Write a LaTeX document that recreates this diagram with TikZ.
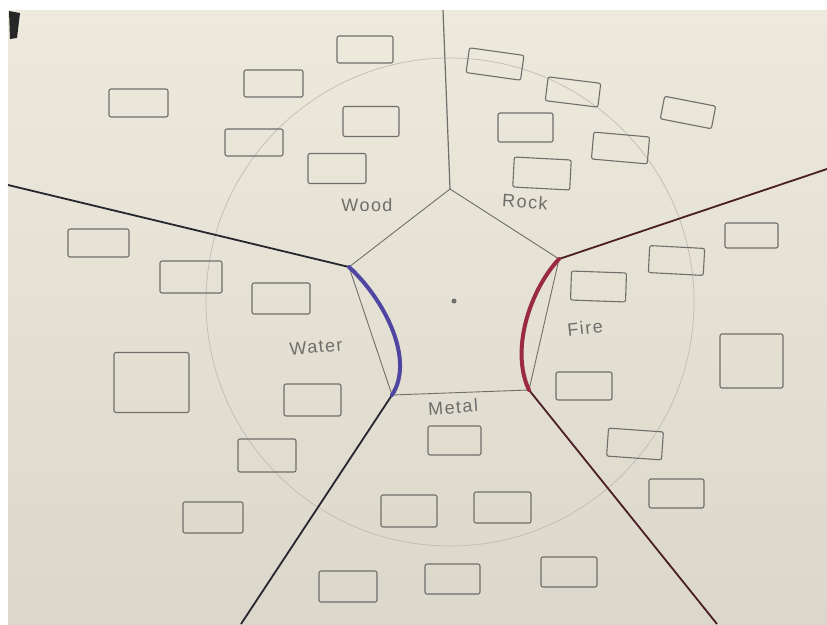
\documentclass[tikz,border=0pt]{standalone}
\usepackage{fontspec}
\usepackage{tikz}
\usetikzlibrary{positioning}
\newfontfamily\mano[LetterSpace=8]{Liberation Sans}
\definecolor{cpapel}{HTML}{EDE9DD}
\definecolor{cpapelb}{HTML}{DCD7CB}
\definecolor{clapiz}{HTML}{6E6E6A}
\definecolor{ccirculo}{HTML}{BEBCB4}
\definecolor{cazul}{HTML}{4E46A0}
\definecolor{cgrana}{HTML}{9A2A40}
\definecolor{ctinta}{HTML}{26262E}
\definecolor{ctintar}{HTML}{4A1E24}
\tikzset{
  caja/.style={rectangle, rounded corners=2pt, draw=clapiz, line width=1.1pt, inner sep=0pt},
  etq/.style={font=\mano\fontsize{18}{20}\selectfont, text=clapiz, inner sep=0pt},
  lapiz/.style={draw=clapiz, line width=0.9pt},
  tinta/.style={draw=ctinta, line width=1.8pt},
  tintar/.style={draw=ctintar, line width=1.8pt},
  arco/.style={line width=4pt, line cap=round},
}

\begin{document}
\begin{tikzpicture}[x=1pt, y=-1pt]
  \useasboundingbox[fill=white] (0,0) rectangle (827,624);
  \shade[top color=cpapel, bottom color=cpapelb] (8,10) rectangle (827,624);
  \fill[black!85] (9,11) -- (20,13) -- (17,38) -- (10,39) -- cycle;

  \draw[ccirculo, line width=0.7pt] (450,302) circle (244);

  % pentagono central
  \coordinate (pa) at (450,189);
  \coordinate (pb) at (559,259);
  \coordinate (pc) at (529,390);
  \coordinate (pd) at (392,395);
  \coordinate (pe) at (349,267);
  \coordinate (ea) at (443,10);
  \coordinate (eb) at (827,169);
  \coordinate (ec) at (717,624);
  \coordinate (ed) at (241,624);
  \coordinate (ee) at (8,185);
  \draw[lapiz] (pa) -- (pb) -- (pc) -- (pd) -- (pe) -- cycle;
  \draw[lapiz, line width=1.2pt] (pa) -- (ea);
  \draw[tintar] (pb) -- (eb);
  \draw[tintar] (pc) -- (ec);
  \draw[tinta] (pd) -- (ed);
  \draw[tinta] (pe) -- (ee);
  \draw[arco, cazul] (pe) .. controls (385,300) and (415,360) .. (pd);
  \draw[arco, cgrana] (pb) .. controls (530,290) and (510,350) .. (pc);
  \fill[clapiz] (454,301) circle (2.5);

  \node[etq] (wood) at (367,205) {Wood};
  \node[etq, rotate=-4] (rock) at (525,202) {Rock};
  \node[etq, rotate=5] (water) at (316,347) {Water};
  \node[etq, rotate=6] (fire) at (585,328) {Fire};
  \node[etq, rotate=4] (metal) at (453,407) {Metal};

  \node[caja, minimum width=56, minimum height=27] (w1) at (365,49.5) {};
  \node[caja, minimum width=59, minimum height=27] (w2) at (273.5,83.5) {};
  \node[caja, minimum width=59, minimum height=28] (w3) at (138.5,103) {};
  \node[caja, minimum width=56, minimum height=30] (w4) at (371,121.5) {};
  \node[caja, minimum width=58, minimum height=27] (w5) at (254,142.5) {};
  \node[caja, minimum width=58, minimum height=30] (w6) at (337,168.5) {};

  \node[caja, minimum width=55, minimum height=25, rotate=-8] (r1) at (495,64) {};
  \node[caja, minimum width=53, minimum height=24, rotate=-7] (r2) at (573,92) {};
  \node[caja, minimum width=52, minimum height=23, rotate=-11] (r3) at (688,112.5) {};
  \node[caja, minimum width=55, minimum height=29] (r4) at (525.5,127.5) {};
  \node[caja, minimum width=56, minimum height=27, rotate=-5] (r5) at (620.5,148) {};
  \node[caja, minimum width=57, minimum height=30, rotate=-3] (r6) at (542,173.5) {};

  \node[caja, minimum width=53, minimum height=25] (f1) at (751.5,235.5) {};
  \node[caja, minimum width=55, minimum height=27, rotate=-3] (f2) at (676.5,260.5) {};
  \node[caja, minimum width=55, minimum height=29, rotate=-2] (f3) at (598.5,286.5) {};
  \node[caja, minimum width=63, minimum height=54] (f4) at (751.5,361) {};
  \node[caja, minimum width=56, minimum height=28] (f5) at (584,386) {};
  \node[caja, minimum width=55, minimum height=28, rotate=-4] (f6) at (635,444) {};
  \node[caja, minimum width=55, minimum height=29] (f7) at (676.5,493.5) {};

  \node[caja, minimum width=61, minimum height=28] (a1) at (98.5,243) {};
  \node[caja, minimum width=62, minimum height=32] (a2) at (191,277) {};
  \node[caja, minimum width=58, minimum height=31] (a3) at (281,298.5) {};
  \node[caja, minimum width=75, minimum height=60] (a4) at (151.5,382.5) {};
  \node[caja, minimum width=57, minimum height=32] (a5) at (312.5,400) {};
  \node[caja, minimum width=58, minimum height=33] (a6) at (267,455.5) {};
  \node[caja, minimum width=60, minimum height=31] (a7) at (213,517.5) {};

  \node[caja, minimum width=53, minimum height=29] (m1) at (454.5,440.5) {};
  \node[caja, minimum width=56, minimum height=32] (m2) at (409,511) {};
  \node[caja, minimum width=57, minimum height=31] (m3) at (502.5,507.5) {};
  \node[caja, minimum width=58, minimum height=31] (m4) at (348,586.5) {};
  \node[caja, minimum width=55, minimum height=30] (m5) at (452.5,579) {};
  \node[caja, minimum width=56, minimum height=30] (m6) at (569,572) {};
\end{tikzpicture}
\end{document}
